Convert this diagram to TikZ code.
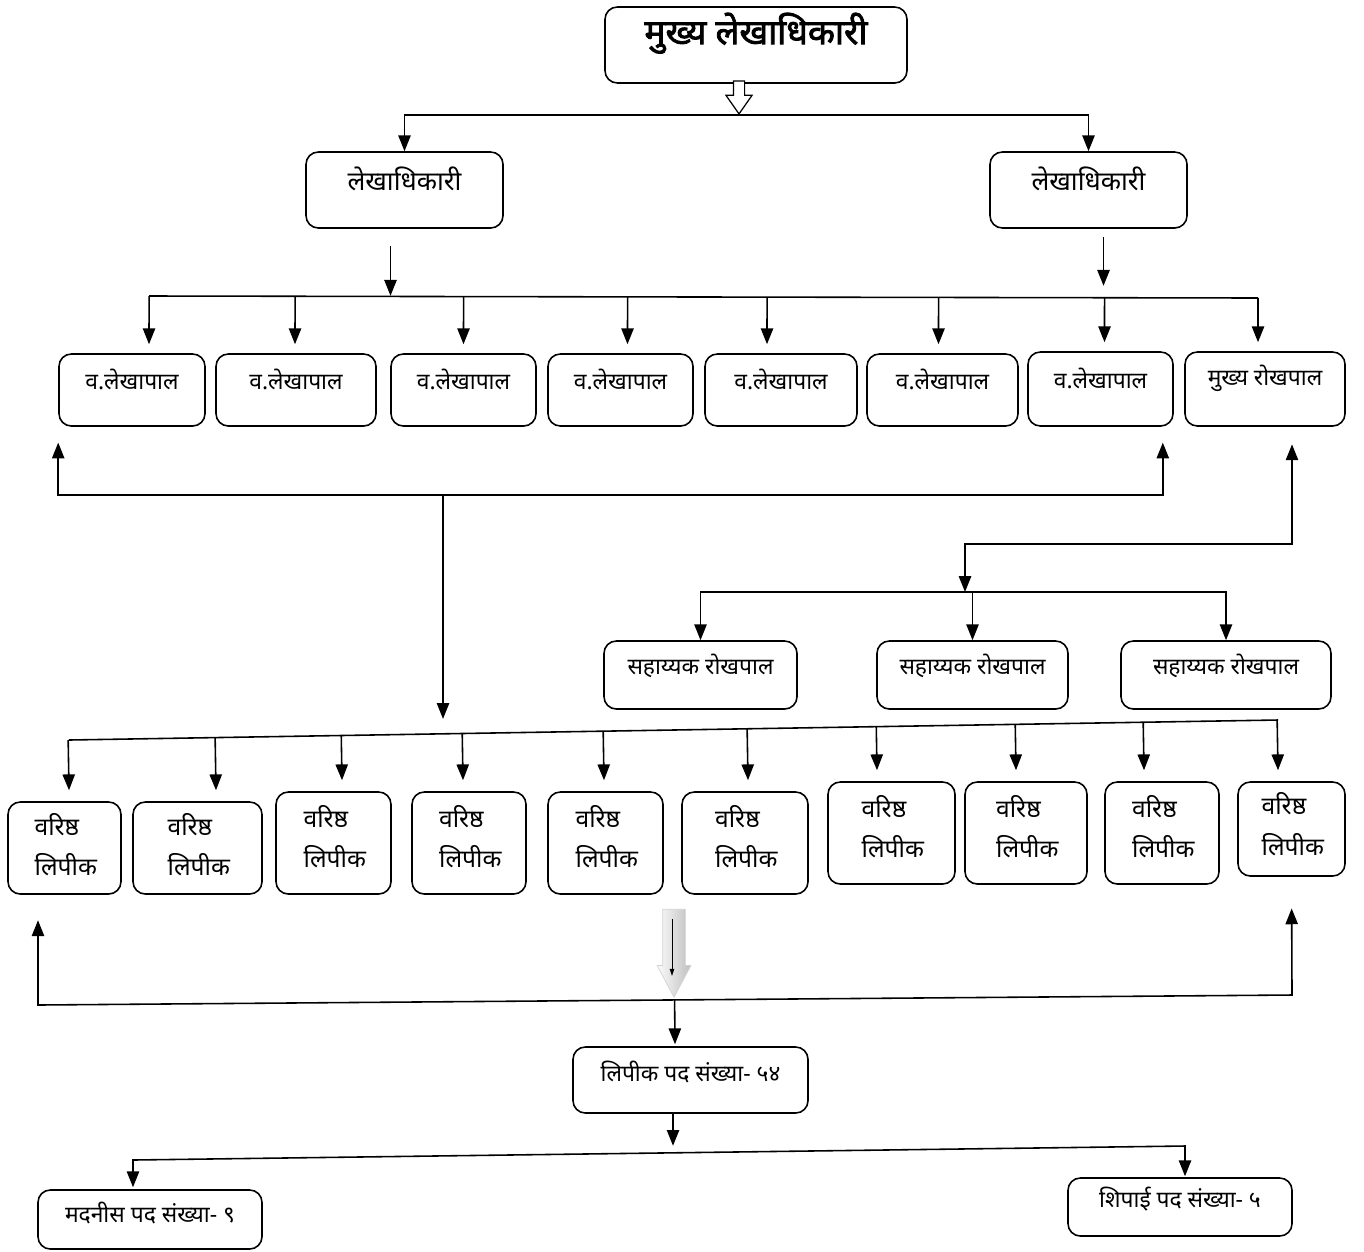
\documentclass[tikz,border=0pt]{standalone}
\usepackage{fontspec}
\usepackage{tikz}
\usetikzlibrary{shapes,arrows.meta,positioning,calc,fit}
\newfontfamily\devfont[Script=Devanagari]{Noto Sans}
\newfontfamily\devbold[Script=Devanagari, FakeBold=2.2]{Noto Sans}
\newcommand{\dropby}[2]{\raisebox{-#1}{#2}}
\newcommand{\srclerk}[1]{\raisebox{-#1}{\makebox[34pt][l]{वरिष्ठ}}\\\raisebox{-#1}{\makebox[34pt][l]{लिपीक}}}

\tikzset{
    post/.style={draw, rounded corners=7pt, line width=0.9pt, inner sep=0pt, font=\devfont\fontsize{13}{16}\selectfont},
    clerk/.style={draw, rounded corners=7pt, line width=0.9pt, inner sep=0pt, align=left, font=\devfont\fontsize{14}{23}\selectfont},
    hollow/.style={single arrow, draw, fill=white, line width=0.7pt, inner xsep=0pt, inner ysep=0.1cm, rotate=-90, minimum height=0.66cm, minimum width=0.5cm, single arrow head extend=0.15cm, single arrow tip angle=70},
    shadearrow/.style={single arrow, draw=gray!35, line width=0.4pt, left color=gray!3, middle color=gray!10, right color=gray!50, inner xsep=0pt, inner ysep=0.22cm, rotate=-90, minimum height=1.76cm, minimum width=0.66cm, single arrow head extend=0.11cm, single arrow tip angle=56}
}

\begin{document}
\begin{tikzpicture}[x=0.02cm, y=-0.02cm, line width=0.9pt, >={Triangle[length=9pt,width=7pt]}]
    \useasboundingbox (0,0) rectangle (1364,1251);

    % chief and officers
    \node[post, fit={(605,7) (907,83)}, font=\devbold\fontsize{20}{24}\selectfont] (chief) {\dropby{4.5pt}{मुख्य लेखाधिकारी}};
    \node[post, fit={(306,152) (503,228)}, font=\devfont\fontsize{15}{18}\selectfont] (lk1) {\dropby{1pt}{लेखाधिकारी}};
    \node[post, fit={(990,152) (1187,228)}, font=\devfont\fontsize{15}{18}\selectfont] (lk2) {\dropby{1pt}{लेखाधिकारी}};

    % second row
    \node[post, fit={(59,354) (205,426)}] (v1) {व.लेखापाल};
    \node[post, fit={(216,354) (376,426)}] (v2) {व.लेखापाल};
    \node[post, fit={(391,354) (536,426)}] (v3) {व.लेखापाल};
    \node[post, fit={(548,354) (693,426)}] (v4) {व.लेखापाल};
    \node[post, fit={(705,354) (857,426)}] (v5) {व.लेखापाल};
    \node[post, fit={(867,354) (1018,426)}] (v6) {व.लेखापाल};
    \node[post, fit={(1028,352) (1173,426)}] (v7) {व.लेखापाल};
    \node[post, fit={(1185,352) (1345,426)}] (v8) {मुख्य रोखपाल};

    % cash
    \node[post, fit={(604,641) (797,709)}] (s1) {\dropby{1.5pt}{सहाय्यक रोखपाल}};
    \node[post, fit={(877,641) (1068,709)}] (s2) {\dropby{1.5pt}{सहाय्यक रोखपाल}};
    \node[post, fit={(1121,641) (1331,709)}] (s3) {\dropby{1.5pt}{सहाय्यक रोखपाल}};

    % clerks
    \node[clerk, fit={(8,802) (121,894)}] (c1) {\srclerk{8.5pt}};
    \node[clerk, fit={(133,802) (262,894)}] (c2) {\srclerk{8.5pt}};
    \node[clerk, fit={(276,792) (391,894)}] (c3) {\srclerk{5pt}};
    \node[clerk, fit={(412,792) (526,894)}] (c4) {\srclerk{5pt}};
    \node[clerk, fit={(548,792) (663,894)}] (c5) {\srclerk{5pt}};
    \node[clerk, fit={(682,792) (808,894)}] (c6) {\srclerk{5pt}};
    \node[clerk, fit={(828,782) (955,884)}] (c7) {\srclerk{5pt}};
    \node[clerk, fit={(965,782) (1087,884)}] (c8) {\srclerk{5pt}};
    \node[clerk, fit={(1105,782) (1219,884)}] (c9) {\srclerk{5pt}};
    \node[clerk, fit={(1238,782) (1345,876)}] (c10) {\srclerk{7pt}};

    % totals
    \node[post, fit={(573,1047) (808,1113)}] (lp) {\dropby{2pt}{लिपीक पद संख्या- ५४}};
    \node[post, fit={(38,1190) (262,1249)}] (md) {\dropby{4pt}{मदनीस पद संख्या- ९}};
    \node[post, fit={(1068,1178) (1292,1236)}] (sp) {\dropby{2.5pt}{शिपाई पद संख्या- ५}};

    % chief -> officers
    \coordinate (split) at (739,115);
    \node[hollow, anchor=tip] (ha) at (split) {};
    \draw[->] (split) -| (lk1);
    \draw[->] (split) -| (lk2);

    % officers -> second row
    \coordinate (bL) at (149,296);
    \coordinate (bR) at (1258,298);
    \draw[->] ($(lk1.south)+(-14,17)$) -- ++(0,50);
    \draw[->] ($(lk2.south)+(15,8)$) -- ++(0,49);
    \draw (bL) -- (bR);
    \foreach \n/\d in {v1/17, v2/-1, v3/0, v4/7, v5/-14, v6/-4, v7/4, v8/-7} {
        \coordinate (t) at ($(\n.north)+(\d,-9)$);
        \draw[->] ($(bL)!(t)!(bR)$) -- (t);
    }

    % back links
    \coordinate (hubL) at (443,495);
    \coordinate (hubR) at (965,544);
    \coordinate (sbus) at (965,592);
    \draw[<->, shorten <=9pt, shorten >=9pt] (v1.south west) |- (hubL) -| ($(v7.south east)+(-11,0)$);
    \draw[<->, shorten <=10pt] ($(v8.south)+(27,0)$) |- (hubR) -- (sbus);
    \draw[->] (sbus) -| (s1);
    \draw[->] (sbus) -| (s2);
    \draw[->] (sbus) -| (s3);

    % clerks bus
    \coordinate (cL) at (69,740);
    \coordinate (cR) at (1278,720);
    \draw[->, shorten >=12pt] (hubL) -- (hubL |- cL);
    \draw (cL) -- (cR);
    \foreach \n/\d in {c1/4.5, c2/18.5, c3/8.5, c4/-6, c5/-1.5, c6/3, c7/-14.5, c8/-10, c9/-18, c10/-13.5} {
        \coordinate (t) at ($(\n.north)+(\d,-11)$);
        \draw[->] ($(cL)!(t)!(cR)$) -- (t);
    }

    % clerks -> totals
    \coordinate (gL) at (38,1005);
    \coordinate (gR) at (1292,995);
    \draw[<->, shorten <=14.5pt, shorten >=18pt] ($(c1.south)+(-26.5,0)$) -- (gL) -- (gR) -- (c10.south);
    \node[shadearrow, anchor=tip] (ga) at (674,998) {};
    \draw[-{Triangle[length=4pt,width=2.5pt]}, line width=0.5pt] ($(ga.tail)+(-2,10)$) -- ($(ga.tail)+(-2,67)$);
    \coordinate (t) at ($(lp.north)+(-15.5,-2)$);
    \draw[->] ($(gL)!(t)!(gR)$) -- (t);

    \coordinate (dL) at (133,1160);
    \coordinate (dR) at (1185,1146);
    \draw[->] ($(lp.south)+(-17.5,0)$) -- ++(0,32);
    \draw[<->] ($(md.north)+(-17,-2)$) -- (dL) -- (dR) -- ($(sp.north)+(5,-1)$);
\end{tikzpicture}
\end{document}
